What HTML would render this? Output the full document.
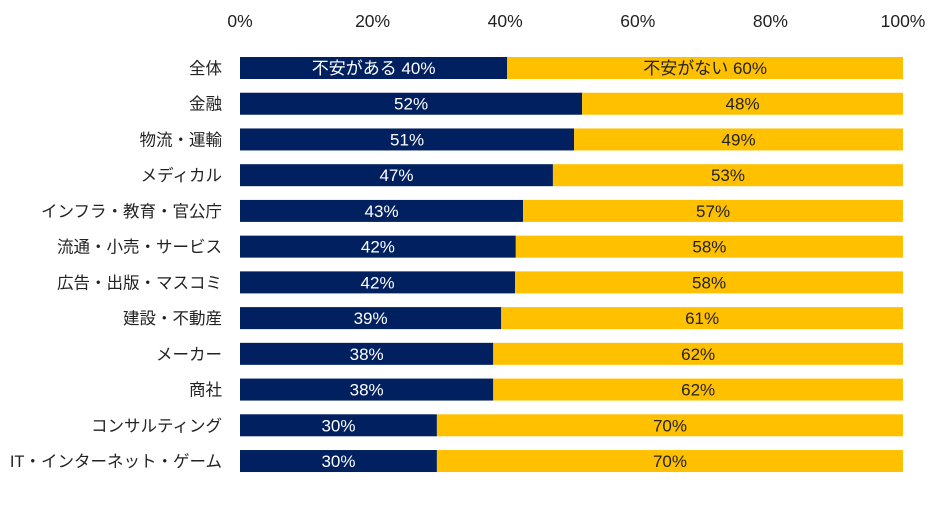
<!DOCTYPE html>
<html><head><meta charset="utf-8"><style>
body{margin:0;background:#fff;font-family:"Liberation Sans","Noto Sans CJK JP",sans-serif;}
svg text{font-family:"Liberation Sans","Noto Sans CJK JP",sans-serif;}
</style></head><body>
<svg id="c" width="945" height="503"></svg>
<script>
const categories=["全体","金融","物流・運輸","メディカル","インフラ・教育・官公庁","流通・小売・サービス","広告・出版・マスコミ","建設・不動産","メーカー","商社","コンサルティング","IT・インターネット・ゲーム"];
const anxiousValues=[40.3,51.6,50.4,47.2,42.7,41.6,41.5,39.4,38.2,38.2,29.7,29.7];
const anxiousLabels=["不安がある 40%","52%","51%","47%","43%","42%","42%","39%","38%","38%","30%","30%"];
const notAnxiousLabels=["不安がない 60%","48%","49%","53%","57%","58%","58%","61%","62%","62%","70%","70%"];
const tickValues=[0,20,40,60,80,100];
const tickLabels=["0%","20%","40%","60%","80%","100%"];
const svg=document.getElementById('c');
const NS="http://www.w3.org/2000/svg";
const x0=240,x1=903,yTop=68,step=35.73,bh=22;
const xs=v=>x0+(x1-x0)*v/100;
const ys=i=>yTop+i*step;
function mk(t,a){const e=document.createElementNS(NS,t);for(const k in a)e.setAttribute(k,a[k]);svg.appendChild(e);return e;}
tickValues.forEach((v,i)=>{
 const t=mk('text',{x:xs(v),y:27,'text-anchor':'middle','font-size':17.5,fill:'#222'});
 t.textContent=tickLabels[i];
 
 
});
categories.forEach((c,i)=>{
 const y=ys(i);
 const l=mk('text',{x:222,y:y+6,'text-anchor':'end','font-size':16.5,fill:'#222'});
 l.textContent=c;
 
 
 const a=mk('rect',{x:x0,y:y-bh/2,width:xs(anxiousValues[i])-x0,height:bh,fill:'#002060'});
 
 
 const b=mk('rect',{x:xs(anxiousValues[i]),y:y-bh/2,width:x1-xs(anxiousValues[i]),height:bh,fill:'#ffc000'});
 
 
 const ta=mk('text',{x:(x0+xs(anxiousValues[i]))/2,y:y+6,'text-anchor':'middle','font-size':17,fill:'#fff'});
 ta.textContent=anxiousLabels[i];
 
 
 const tb=mk('text',{x:(xs(anxiousValues[i])+x1)/2,y:y+6,'text-anchor':'middle','font-size':17,fill:'#222'});
 tb.textContent=notAnxiousLabels[i];
 
 
});
</script>
</body></html>
